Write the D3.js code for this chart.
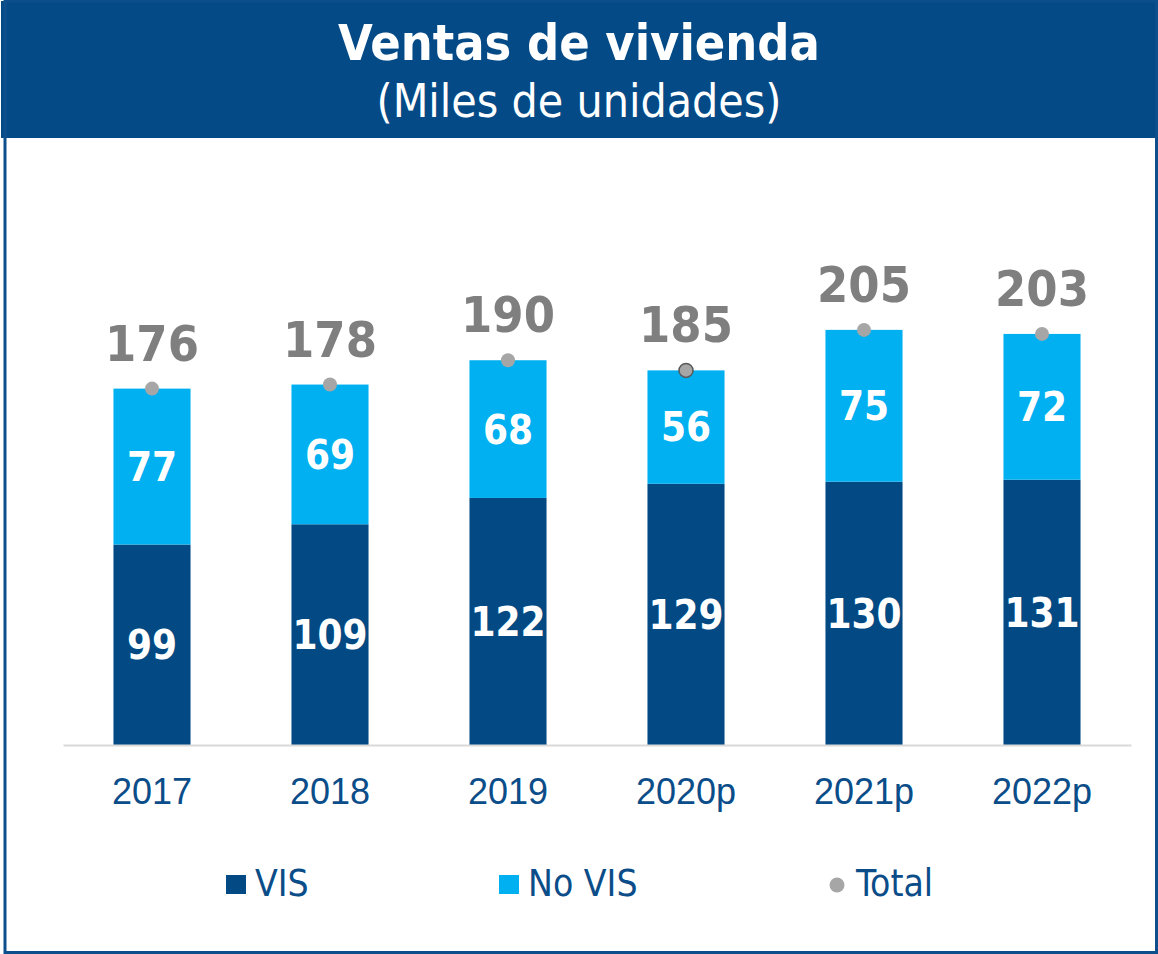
<!DOCTYPE html>
<html>
<head>
<meta charset="utf-8">
<script src="https://cdn.jsdelivr.net/npm/d3@7"></script>
<style>
    body { margin: 0; background: #fff; }
    svg { display: block; font-family: "DejaVu Sans Condensed", "DejaVu Sans", sans-serif; font-stretch: condensed; }
</style>
</head>
<body>
<svg id="ventas"></svg>
<script>
// data
var years = ["2017", "2018", "2019", "2020p", "2021p", "2022p"]
var vis = [99, 109, 122, 129, 130, 131]
var noVis = [77, 69, 68, 56, 75, 72]
var totals = [176, 178, 190, 185, 205, 203]
var seriesNames = ["VIS", "No VIS", "Total"]

var dimensions = {
    width: 1158,
    height: 954,
    plotLeft: 63,
    plotRight: 1131,
    baseline: 745,
    pxPerUnit: 2.025
}

var colors = {
    banner: "#044a86",
    frame: "#0d4f8c",
    vis: "#034a84",
    noVis: "#00b0f0",
    total: "#a6a6a6",
    totalText: "#7f7f7f",
    axisText: "#0b4d89",
    axisLine: "#d9d9d9"
}

var rows = years.map(function (y, i) {
    return { year: y, vis: vis[i], noVis: noVis[i], total: totals[i] }
})

var svg = d3.select("#ventas")
    .attr("width", dimensions.width)
    .attr("height", dimensions.height)

// title banner + frame
svg.append("rect")
    .attr("x", 1).attr("y", 1)
    .attr("width", 1157).attr("height", 137)
    .attr("fill", colors.banner)

svg.append("rect")
    .attr("x", 5).attr("y", 1)
    .attr("width", 1151.5).attr("height", 951.5)
    .attr("fill", "none")
    .attr("stroke", colors.frame)
    .attr("stroke-width", 3)

svg.append("text")
    .attr("x", dimensions.width / 2)
    .attr("y", 60)
    .attr("text-anchor", "middle")
    .attr("fill", "#fff")
    .style("font-weight", "bold")
    .style("font-size", "50px")
    .text("Ventas de vivienda")

svg.append("text")
    .attr("x", dimensions.width / 2)
    .attr("y", 117)
    .attr("text-anchor", "middle")
    .attr("fill", "#fff")
    .style("font-size", "46px")
    .text("(Miles de unidades)")

var xScale = d3.scaleBand()
    .domain(years)
    .range([dimensions.plotLeft, dimensions.plotRight])
    .paddingInner(0.567)
    .paddingOuter(0.2835)

var yScale = d3.scaleLinear()
    .domain([0, 220])
    .range([dimensions.baseline, dimensions.baseline - 220 * dimensions.pxPerUnit])

var stack = d3.stack().keys(["vis", "noVis"])
var stacked = stack(rows)

var layers = svg.selectAll(".layer")
    .data(stacked)
    .enter()
    .append("g")
    .attr("class", "layer")
    .attr("fill", function (d) { return d.key === "vis" ? colors.vis : colors.noVis })

layers.selectAll("rect")
    .data(function (d) { return d })
    .enter()
    .append("rect")
    .attr("x", function (d) { return xScale(d.data.year) })
    .attr("width", xScale.bandwidth())
    .attr("y", function (d) { return yScale(d[1]) })
    .attr("height", function (d) { return yScale(d[0]) - yScale(d[1]) })

// white values inside the segments
layers.selectAll("text")
    .data(function (d) { return d })
    .enter()
    .append("text")
    .attr("x", function (d) { return xScale(d.data.year) + xScale.bandwidth() / 2 })
    .attr("y", function (d) { return (yScale(d[0]) + yScale(d[1])) / 2 })
    .attr("dy", "0.36em")
    .attr("text-anchor", "middle")
    .attr("fill", "#fff")
    .style("font-weight", "bold")
    .style("font-size", "40px")
    .text(function (d) { return d[1] - d[0] })

// x axis
var xAxis = d3.axisBottom(xScale).tickSize(0)

var axisG = svg.append("g")
    .attr("transform", "translate(0," + dimensions.baseline + ")")
    .call(xAxis)

axisG.select(".domain")
    .attr("stroke", colors.axisLine)
    .attr("stroke-width", 2)

axisG.selectAll("text")
    .attr("y", 59)
    .attr("dy", 0)
    .attr("fill", colors.axisText)
    .style("font-family", "inherit")
    .style("font-size", "36px")

// total markers
svg.selectAll(".total-dot")
    .data(rows)
    .enter()
    .append("circle")
    .attr("class", "total-dot")
    .attr("cx", function (d) { return xScale(d.year) + xScale.bandwidth() / 2 })
    .attr("cy", function (d) { return yScale(d.total) })
    .attr("r", 7)
    .attr("fill", colors.total)
    .attr("stroke", function (d) { return d.year === "2020p" ? "#595959" : "none" })
    .attr("stroke-width", 1.5)

svg.selectAll(".total-label")
    .data(rows)
    .enter()
    .append("text")
    .attr("class", "total-label")
    .attr("x", function (d) { return xScale(d.year) + xScale.bandwidth() / 2 })
    .attr("y", function (d) { return yScale(d.total) - 28 })
    .attr("text-anchor", "middle")
    .attr("fill", colors.totalText)
    .style("font-weight", "bold")
    .style("font-size", "50px")
    .text(function (d) { return d.total })

// legend
var legendX = [226, 499, 829]
var legend = svg.selectAll(".legend")
    .data(seriesNames)
    .enter()
    .append("g")
    .attr("class", "legend")
    .attr("transform", function (d, i) { return "translate(" + legendX[i] + ",885)" })

legend.each(function (d, i) {
    var g = d3.select(this)
    if (i < 2) {
        g.append("rect")
            .attr("x", 0).attr("y", -10)
            .attr("width", 20).attr("height", 19)
            .attr("fill", i === 0 ? colors.vis : colors.noVis)
    } else {
        g.append("circle")
            .attr("cx", 8).attr("cy", 0)
            .attr("r", 7.5)
            .attr("fill", colors.total)
    }
    g.append("text")
        .attr("x", i < 2 ? 29 : 27)
        .attr("y", 11)
        .attr("fill", colors.axisText)
        .style("font-size", "37px")
        .text(d)
})
</script>
</body>
</html>
